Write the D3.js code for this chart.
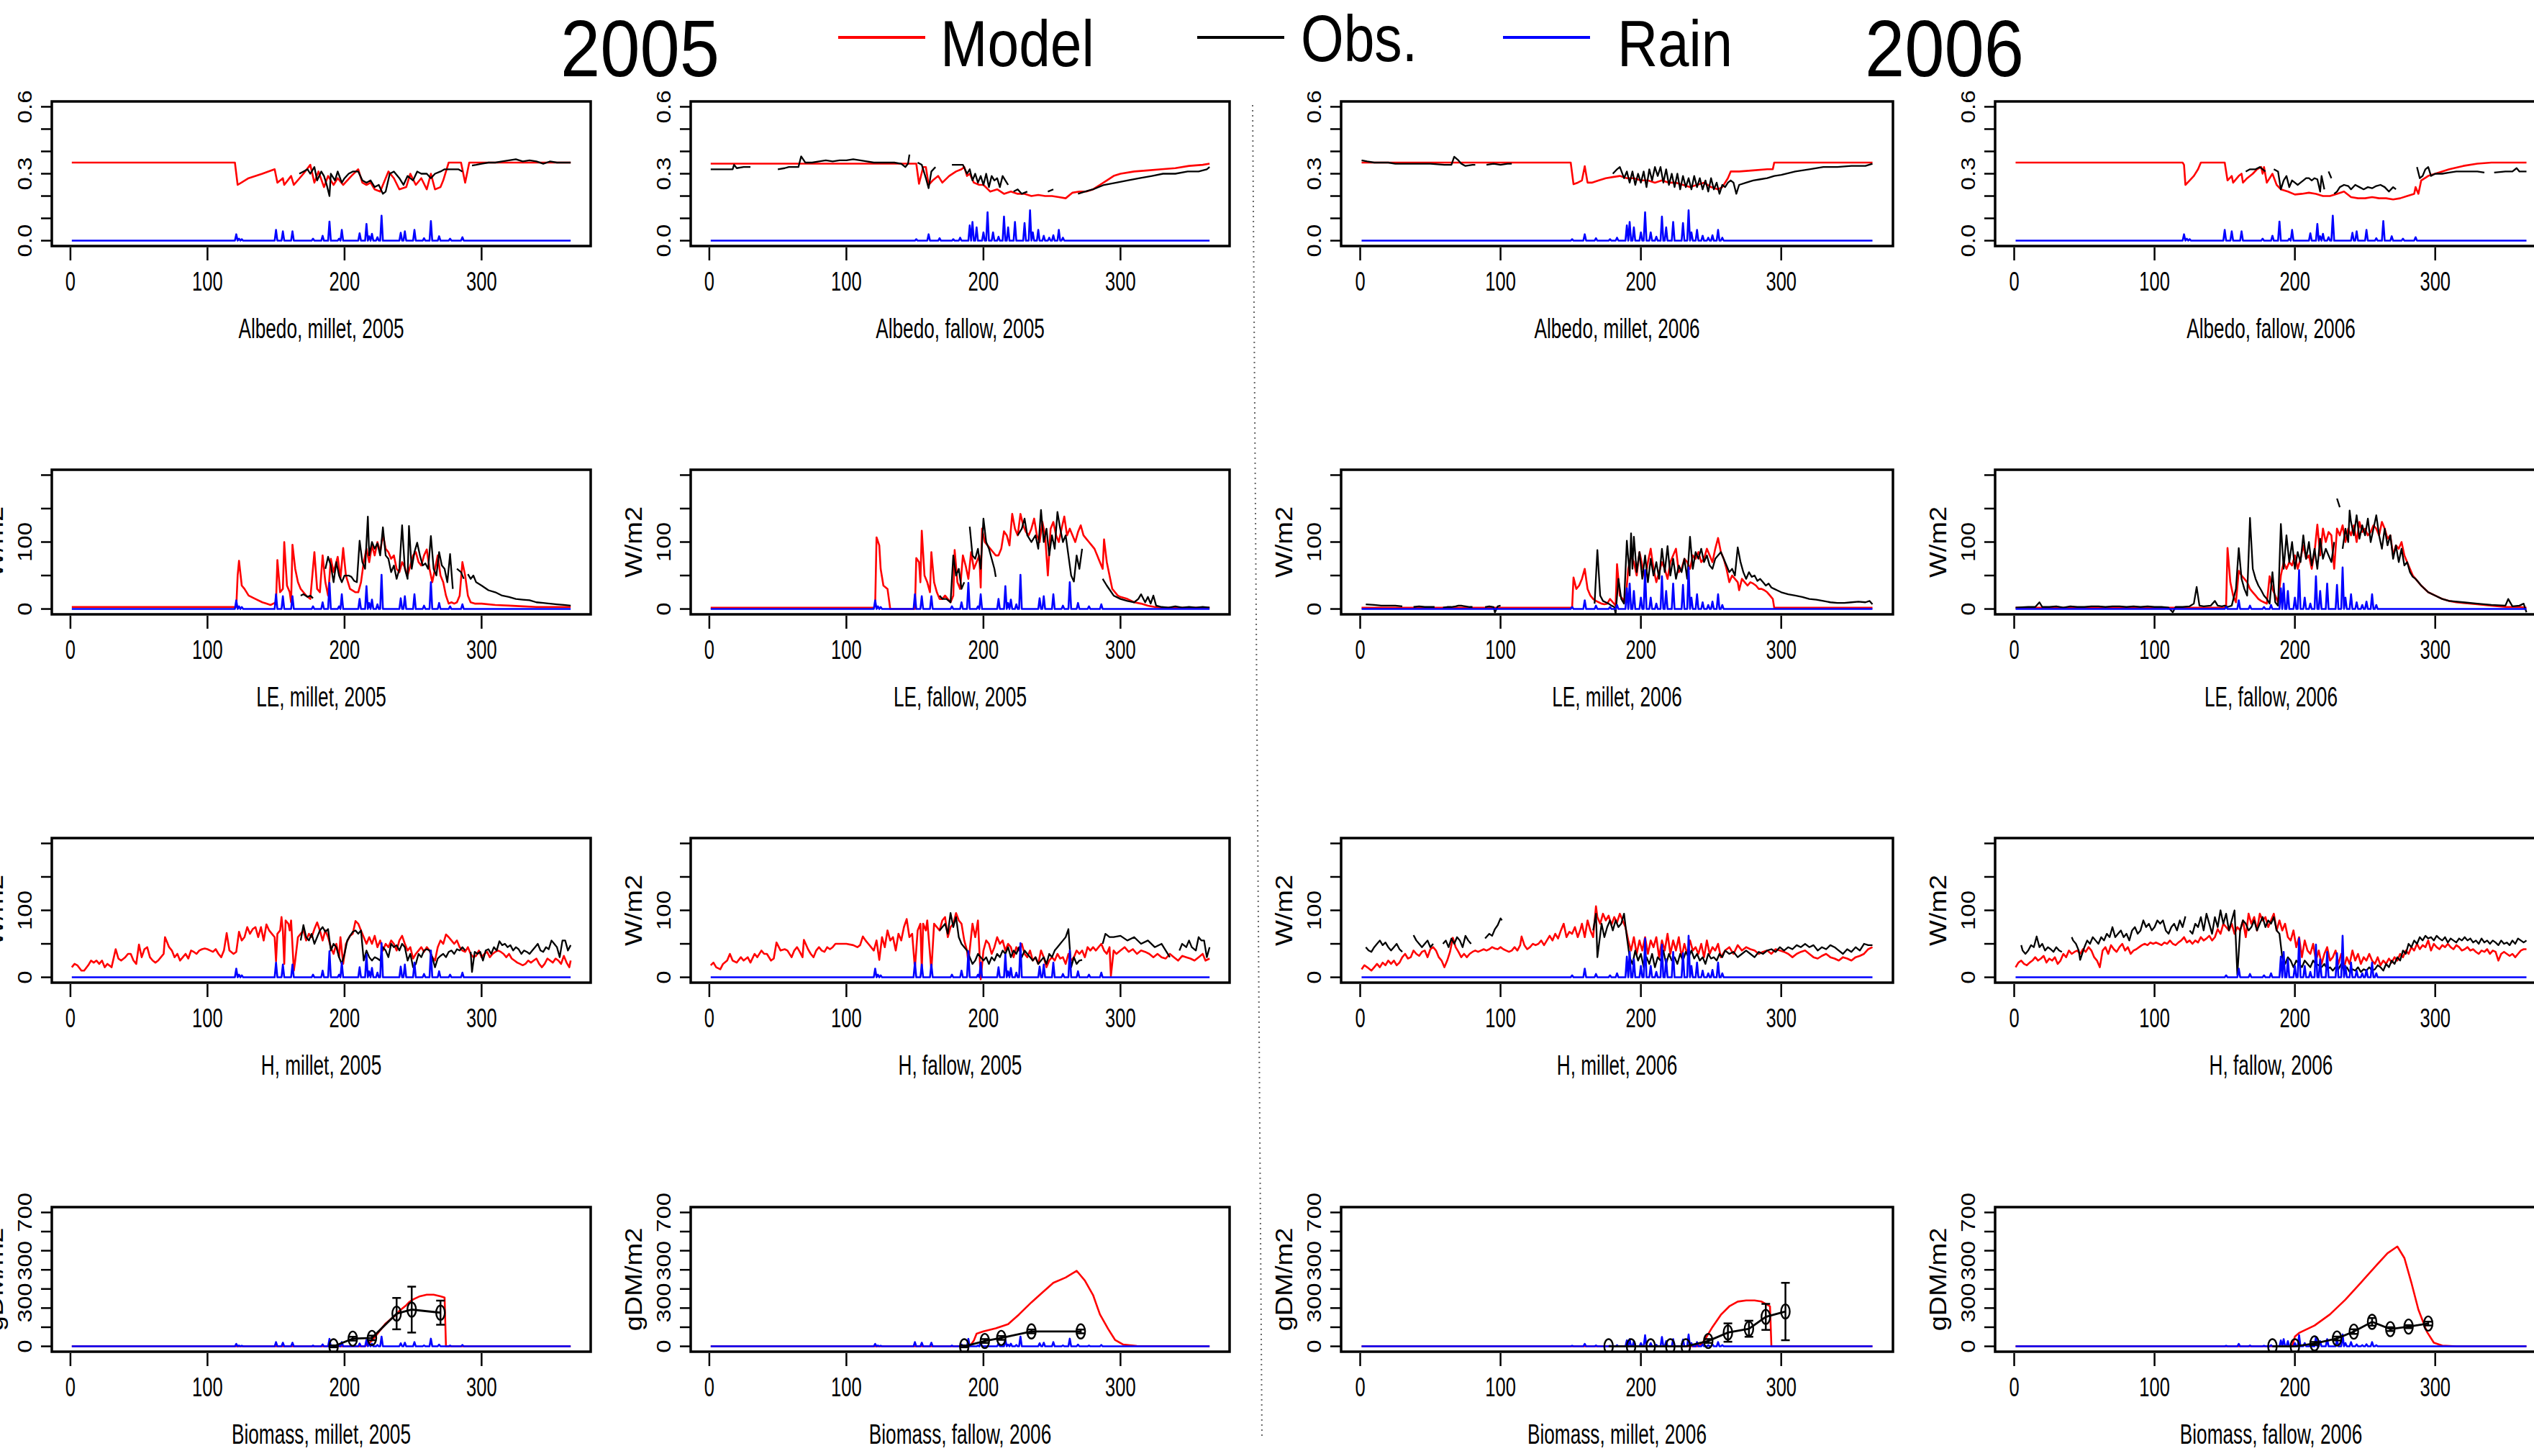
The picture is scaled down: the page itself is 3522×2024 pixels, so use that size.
<!DOCTYPE html>
<html>
<head>
<meta charset="utf-8">
<script src="https://cdn.jsdelivr.net/npm/d3@7"></script>
<style>
html, body { margin: 0; padding: 0; background: #fff; overflow: hidden; }
text { font-family: "Liberation Sans", Arial, Helvetica, sans-serif; fill: #000; }
</style>
</head>
<body>
<svg id="chart" width="3522" height="2024"></svg>
<script>
// ---------- data (day of year, value) ----------
const xTicks = [0, 100, 200, 300];

// rain spikes [day, mm]
const rain05 = [[121,13],[123,4],[125,3],[150,22],[155,19],[162,19],[177,4],[184,10],[189,39],[196,4],[198,22],[211,15],[216,34],[218,9],[220,14],[224,7],[227,51],[241,16],[244,19],[251,22],[258,5],[263,40],[269,9],[277,4],[286,7]];
const rain06 = [[151,3],[160,13],[168,5],[178,3],[183,6],[190,31],[192,38],[195,27],[200,17],[203,58],[207,17],[211,8],[215,49],[218,27],[223,38],[230,36],[234,62],[236,17],[240,22],[244,10],[248,6],[251,11],[255,22],[258,6]];

// Albedo
const albMil05Mod = [[1,.35],[120,.35],[122,.25],[130,.28],[140,.30],[149,.32],[151,.26],[155,.28],[156,.25],[161,.29],[163,.25],[170,.30],[175,.34],[178,.26],[181,.31],[185,.24],[188,.29],[192,.25],[195,.28],[199,.25],[205,.29],[210,.32],[213,.26],[216,.25],[219,.26],[222,.23],[226,.22],[232,.31],[236,.28],[240,.23],[245,.24],[248,.30],[252,.25],[256,.28],[260,.23],[263,.30],[266,.23],[270,.24],[272,.27],[276,.35],[285,.35],[288,.26],[291,.35],[365,.35]];
const albMil05Obs = [[167,.30],[170,.31],[173,.32],[175,.30],[178,.33],[180,.27],[183,.31],[185,.29],[187,.25],[189,.20],[190,.30],[193,.27],[195,.31],[198,.26],[200,.28],[203,.30],[206,.31],[210,.31],[213,.27],[216,.26],[219,.27],[222,.24],[225,.25],[228,.21],[230,.22],[233,.30],[236,.31],[240,.28],[243,.25],[246,.29],[250,.27],[253,.31],[256,.30],[260,.30],[263,.28],[266,.30],[270,.31],[273,.32],[276,.32],[280,.32],[283,.32],[286,.31],[288,null],[293,.337],[296,.34],[300,.345],[305,.35],[310,.35],[315,.355],[320,.36],[325,.365],[330,.355],[335,.36],[340,.355],[345,.345],[350,.355],[355,.35],[360,.35],[365,.35]];
const albFal05Mod = [[1,.345],[151,.345],[153,.255],[156,.33],[158,.33],[160,.25],[163,.27],[167,.29],[170,.26],[175,.29],[180,.31],[184,.32],[186,.33],[188,.29],[190,.30],[193,.26],[197,.25],[200,.25],[205,.22],[210,.23],[215,.21],[220,.22],[225,.21],[230,.21],[235,.20],[240,.205],[245,.20],[250,.20],[255,.195],[260,.19],[265,.215],[270,.22],[275,.22],[280,.23],[285,.25],[290,.27],[295,.29],[300,.30],[310,.31],[320,.315],[330,.32],[340,.325],[350,.335],[360,.34],[365,.345]];
const albFal05Obs = [[1,.32],[10,.32],[17,.32],[18,.34],[20,.325],[25,.33],[30,.33],[31,null],[50,.32],[55,.325],[58,.33],[62,.33],[65,.33],[67,.378],[70,.35],[75,.35],[80,.355],[85,.36],[90,.355],[95,.36],[100,.36],[105,.365],[110,.36],[115,.355],[120,.35],[125,.35],[130,.35],[135,.35],[140,.345],[143,.33],[145,.345],[146,.386],[147,null],[152,.35],[155,.34],[158,.28],[160,.235],[162,.31],[165,.33],[167,null],[177,.34],[180,.34],[185,.34],[188,.30],[190,.32],[192,.27],[194,.30],[196,.26],[198,.29],[200,.25],[202,.30],[204,.24],[206,.29],[208,.27],[210,.28],[212,.24],[214,.29],[216,.27],[218,.25],[219,null],[222,.22],[225,.23],[228,.21],[232,.22],[233,null],[247,.22],[251,.23],[252,null],[269,.21],[274,.22],[280,.23],[288,.25],[297,.26],[305,.27],[314,.28],[323,.29],[331,.30],[340,.30],[349,.31],[357,.31],[363,.32],[365,.33]];
const albMil06Mod = [[1,.35],[150,.35],[152,.253],[155,.26],[158,.27],[160,.334],[162,.26],[165,.26],[170,.27],[175,.28],[180,.285],[185,.29],[190,.28],[195,.28],[200,.27],[205,.27],[210,.26],[215,.27],[220,.26],[225,.26],[230,.25],[235,.24],[240,.25],[245,.26],[250,.24],[255,.23],[258,.24],[262,.28],[264,.31],[270,.31],[280,.315],[290,.32],[294,.32],[295,.35],[365,.35]];
const albMil06Obs = [[1,.36],[5,.355],[10,.35],[15,.35],[20,.35],[25,.345],[30,.345],[40,.345],[50,.345],[60,.34],[65,.34],[67,.376],[70,.36],[72,.345],[75,.335],[80,.34],[82,.34],[83,null],[90,.34],[95,.345],[100,.34],[105,.345],[108,.345],[109,null],[180,.30],[183,.32],[185,.33],[188,.28],[190,.31],[192,.26],[194,.31],[196,.25],[198,.30],[200,.26],[202,.31],[204,.24],[206,.32],[208,.27],[210,.33],[212,.29],[214,.33],[216,.26],[218,.32],[220,.25],[222,.30],[224,.24],[226,.30],[228,.23],[230,.29],[232,.24],[234,.28],[236,.23],[238,.29],[240,.24],[242,.28],[244,.23],[246,.27],[248,.22],[250,.28],[252,.23],[254,.26],[256,.21],[258,.25],[260,.24],[262,.26],[264,.27],[266,.26],[268,.21],[270,.25],[275,.26],[280,.27],[285,.275],[290,.28],[295,.29],[300,.295],[310,.31],[320,.32],[330,.33],[340,.33],[350,.335],[360,.335],[365,.345]];
const albFal06Mod = [[1,.35],[120,.35],[121,.34],[122,.25],[125,.27],[128,.29],[131,.32],[133,.35],[150,.35],[152,.27],[155,.29],[156,.26],[160,.29],[162,.30],[163,.26],[166,.28],[170,.30],[173,.32],[176,.33],[177,.30],[178,.33],[180,.26],[184,.30],[187,.25],[190,.23],[195,.22],[200,.207],[205,.21],[210,.215],[215,.21],[220,.20],[225,.20],[230,.21],[235,.22],[240,.195],[245,.19],[250,.19],[255,.195],[260,.19],[265,.19],[270,.185],[275,.19],[280,.20],[285,.21],[286,.24],[288,.21],[290,.27],[295,.29],[300,.30],[310,.32],[320,.335],[330,.345],[340,.35],[365,.35]];
const albFal06Obs = [[165,.31],[168,.32],[172,.32],[175,.33],[177,.32],[179,.31],[180,null],[185,.32],[188,.31],[190,.23],[192,.27],[194,.29],[196,.24],[198,.27],[200,.26],[202,.25],[204,.26],[206,.27],[208,.28],[210,.28],[212,.27],[214,.28],[216,.275],[218,.22],[219,.29],[221,.23],[222,null],[224,.31],[226,.28],[227,null],[228,.21],[230,.22],[232,.24],[235,.25],[238,.245],[240,.23],[243,.25],[246,.24],[249,.23],[252,.24],[255,.235],[258,.245],[261,.25],[264,.24],[267,.22],[270,.24],[272,.23],[273,null],[287,.33],[289,.28],[291,.29],[293,.32],[295,.33],[297,.29],[300,.30],[305,.30],[310,.305],[315,.31],[320,.31],[325,.31],[330,.31],[335,.305],[336,null],[342,.305],[350,.31],[355,.31],[358,.325],[360,.31],[365,.31]];

// LE (W/m2)
const leMil05Mod = [[1,3],[120,3],[121,3],[122,50],[123,72],[125,35],[127,30],[130,20],[135,15],[140,10],[143,8],[146,6],[148,8],[150,10],[151,73],[153,25],[155,30],[156,100],[158,35],[160,25],[161,10],[162,96],[164,60],[166,40],[168,30],[170,25],[172,20],[175,15],[178,85],[180,30],[182,25],[184,80],[186,40],[188,20],[190,75],[192,55],[195,78],[197,45],[199,91],[201,50],[204,30],[208,25],[210,25],[212,40],[214,70],[216,90],[218,70],[220,95],[222,80],[224,100],[226,85],[228,111],[230,90],[232,85],[234,75],[236,80],[238,60],[240,55],[242,70],[244,62],[246,50],[248,65],[250,80],[252,85],[254,70],[256,65],[258,80],[260,89],[262,60],[264,40],[266,60],[268,80],[270,50],[272,40],[274,20],[276,8],[278,10],[280,8],[282,10],[284,20],[286,70],[288,50],[290,20],[292,10],[295,8],[300,8],[310,6],[320,5],[330,4],[340,3],[365,3]];
const leMil05Obs = [[168,20],[170,22],[173,18],[175,20],[177,16],[179,null],[186,60],[188,78],[190,65],[192,40],[194,70],[196,50],[198,40],[200,50],[203,50],[205,48],[207,42],[209,40],[211,102],[213,70],[215,60],[217,138],[218,80],[220,100],[222,90],[224,98],[226,80],[228,122],[230,80],[232,75],[234,55],[236,65],[238,45],[240,60],[242,125],[244,60],[246,45],[247,124],[249,60],[251,85],[253,99],[255,80],[257,65],[259,68],[261,60],[263,109],[265,60],[267,50],[269,85],[271,65],[273,60],[275,40],[277,82],[279,30],[280,null],[282,60],[285,55],[287,45],[288,null],[290,52],[292,45],[294,50],[296,40],[300,35],[305,28],[310,25],[315,20],[320,18],[325,15],[330,14],[335,13],[340,10],[345,9],[350,8],[355,7],[360,6],[365,5]];
const leFal05Mod = [[1,2],[120,2],[121,5],[122,107],[124,95],[125,60],[127,35],[130,30],[131,15],[132,0],[150,0],[151,76],[153,70],[154,40],[155,117],[157,50],[159,40],[161,25],[162,85],[164,40],[166,25],[168,15],[170,15],[172,20],[174,15],[176,10],[178,20],[179,88],[181,40],[183,30],[185,80],[187,65],[189,45],[191,85],[193,60],[195,70],[197,80],[198,32],[199,120],[201,100],[203,95],[205,90],[207,85],[209,80],[211,80],[213,90],[215,116],[217,110],[219,95],[221,142],[223,120],[225,110],[227,142],[229,125],[231,115],[233,110],[235,120],[237,135],[239,110],[241,100],[243,130],[245,110],[247,50],[249,120],[251,130],[253,110],[255,100],[257,120],[259,138],[261,110],[263,120],[265,110],[267,100],[269,115],[271,125],[273,110],[275,105],[277,100],[279,95],[281,90],[283,80],[285,70],[287,60],[288,104],[290,70],[292,50],[294,30],[296,25],[298,20],[300,18],[305,15],[310,10],[315,8],[320,5],[325,3],[330,2],[365,2]];
const leFal05Obs = [[168,20],[170,15],[173,15],[176,10],[178,80],[180,50],[182,60],[184,30],[186,40],[187,null],[190,123],[192,80],[194,75],[196,90],[198,60],[200,135],[202,100],[204,90],[206,75],[208,60],[209,48],[210,null],[225,110],[228,120],[230,135],[232,110],[235,100],[238,110],[240,90],[242,148],[244,100],[246,120],[248,80],[250,110],[252,90],[254,145],[256,120],[258,100],[260,110],[262,80],[264,50],[266,41],[268,80],[270,60],[272,90],[273,null],[287,45],[290,35],[295,20],[300,15],[305,12],[310,10],[313,15],[315,22],[318,10],[320,18],[322,8],[324,20],[326,5],[330,3],[335,2],[340,4],[345,2],[350,3],[355,2],[360,3],[365,2]];
const leMil06Mod = [[1,2],[150,2],[151,2],[152,47],[154,30],[156,35],[158,45],[160,60],[162,30],[164,20],[166,15],[168,12],[170,10],[172,8],[174,7],[176,8],[178,15],[180,10],[182,5],[183,67],[185,20],[187,15],[189,10],[191,60],[193,80],[195,70],[197,50],[199,85],[201,65],[203,45],[205,70],[207,90],[209,60],[211,40],[213,55],[215,70],[217,60],[219,45],[221,70],[223,80],[225,90],[227,55],[229,60],[231,75],[233,70],[235,60],[237,80],[239,75],[241,85],[243,70],[245,75],[247,90],[249,80],[251,70],[253,90],[255,106],[257,85],[259,75],[261,60],[263,40],[265,50],[267,45],[269,40],[270,28],[272,45],[274,40],[276,35],[278,40],[280,38],[282,35],[284,30],[286,30],[288,28],[290,25],[292,20],[294,15],[295,2],[365,2]];
const leMil06Obs = [[4,7],[10,6],[15,5],[20,5],[25,5],[30,4],[31,null],[38,3],[42,4],[46,3],[50,3],[53,3],[54,null],[59,2],[62,3],[65,3],[68,4],[70,5],[72,5],[75,4],[78,3],[80,3],[81,null],[89,3],[92,4],[95,3],[96,-5],[98,4],[100,5],[101,null],[167,8],[169,88],[171,20],[173,12],[175,10],[177,8],[179,5],[181,3],[182,-7],[184,45],[186,15],[188,8],[190,102],[192,50],[193,113],[194,60],[195,108],[197,55],[199,85],[201,45],[203,80],[205,40],[207,75],[209,50],[211,70],[213,45],[215,90],[217,55],[219,94],[221,50],[223,75],[225,45],[227,65],[229,55],[231,75],[233,45],[235,108],[237,60],[239,85],[241,75],[243,90],[245,70],[247,80],[249,65],[251,60],[253,75],[255,80],[257,85],[259,75],[261,65],[263,55],[265,60],[267,50],[269,92],[271,70],[273,55],[275,45],[277,55],[279,48],[281,50],[283,42],[285,45],[287,40],[289,35],[291,38],[293,32],[295,30],[297,28],[300,25],[305,22],[310,20],[315,18],[320,15],[325,14],[330,12],[335,10],[340,9],[345,9],[350,10],[355,11],[360,10],[363,12],[365,7]];
const leFal06Mod = [[1,2],[150,2],[151,5],[152,91],[154,40],[156,20],[158,10],[160,57],[162,50],[164,45],[166,40],[168,30],[170,25],[172,20],[174,15],[176,12],[178,10],[180,8],[182,49],[184,30],[186,20],[188,10],[190,50],[192,70],[194,60],[196,70],[198,65],[200,80],[202,60],[204,75],[206,95],[208,75],[210,80],[212,60],[214,85],[216,126],[218,80],[220,120],[222,100],[224,115],[226,110],[228,60],[230,120],[232,110],[234,125],[236,100],[238,120],[240,110],[242,125],[244,100],[246,130],[248,115],[250,120],[252,110],[254,115],[256,125],[258,120],[260,110],[262,130],[264,120],[266,105],[268,110],[270,80],[272,95],[274,90],[276,100],[278,80],[280,70],[282,60],[284,50],[286,45],[288,40],[290,35],[295,25],[300,20],[305,15],[310,12],[315,10],[320,9],[330,7],[340,5],[350,3],[360,3],[365,2]];
const leFal06Obs = [[1,2],[10,3],[15,3],[18,10],[20,3],[25,3],[30,4],[35,2],[40,4],[45,3],[50,3],[55,4],[60,4],[65,3],[70,4],[75,4],[80,3],[85,4],[90,3],[95,4],[100,3],[105,3],[110,2],[113,-5],[115,3],[120,3],[125,4],[128,8],[130,33],[132,5],[135,4],[140,5],[143,12],[145,5],[148,4],[150,5],[152,3],[155,5],[158,30],[160,91],[162,45],[164,30],[166,20],[168,136],[170,60],[172,45],[174,35],[176,28],[178,20],[180,15],[182,8],[184,55],[186,10],[188,5],[190,127],[192,60],[194,110],[196,70],[198,100],[200,60],[202,85],[204,70],[206,110],[208,75],[210,100],[212,65],[214,90],[216,60],[218,105],[220,75],[222,90],[224,80],[226,70],[228,100],[229,null],[230,165],[232,152],[233,null],[234,90],[236,120],[238,100],[239,147],[240,130],[242,110],[244,140],[246,105],[248,125],[250,110],[252,135],[254,100],[256,120],[258,140],[260,110],[262,90],[264,120],[266,95],[268,110],[270,75],[272,95],[274,70],[276,90],[278,65],[280,70],[282,55],[284,48],[286,45],[288,40],[290,35],[295,25],[300,20],[305,15],[310,12],[320,10],[330,8],[340,6],[350,5],[352,15],[355,4],[360,5],[363,8],[365,-5]];

// H (W/m2)
const hMil05Mod = [[1,15],[3,20],[5,18],[8,10],[10,10],[13,18],[15,25],[17,22],[19,25],[21,20],[23,25],[25,15],[27,20],[30,15],[33,42],[35,28],[37,25],[40,30],[42,35],[44,35],[46,25],[48,20],[50,49],[52,30],[54,42],[56,45],[58,30],[60,25],[62,22],[64,25],[66,30],[68,35],[69,60],[72,45],[74,40],[76,30],[78,35],[80,25],[82,30],[84,35],[86,28],[88,40],[90,38],[92,35],[94,40],[96,42],[98,43],[100,42],[102,40],[104,38],[106,42],[108,35],[110,30],[112,40],[114,66],[116,40],[119,35],[121,38],[123,68],[125,55],[127,60],[129,75],[131,65],[133,72],[135,75],[137,60],[139,75],[141,55],[143,79],[145,70],[147,65],[149,60],[150,24],[151,65],[153,70],[154,90],[155,70],[156,20],[157,85],[159,80],[160,70],[161,85],[163,10],[164,25],[166,60],[168,65],[170,70],[172,55],[174,65],[176,60],[178,72],[180,82],[182,70],[184,55],[186,70],[188,60],[190,45],[192,35],[194,50],[196,30],[197,60],[199,20],[201,50],[204,62],[206,65],[208,84],[210,80],[212,70],[214,60],[216,50],[218,60],[220,50],[222,62],[224,45],[226,55],[228,40],[230,50],[232,45],[234,55],[236,50],[238,40],[240,55],[242,62],[244,50],[246,40],[248,45],[250,28],[252,35],[254,40],[256,45],[258,38],[260,45],[262,40],[264,30],[266,25],[268,45],[270,55],[272,50],[274,64],[276,60],[278,55],[280,50],[282,55],[284,45],[286,40],[288,38],[290,45],[292,35],[294,30],[296,32],[298,40],[300,30],[302,35],[304,38],[306,30],[308,35],[310,38],[312,40],[314,38],[316,35],[318,30],[320,35],[322,28],[324,25],[326,22],[328,20],[330,18],[332,20],[334,25],[336,22],[338,25],[340,28],[342,20],[344,15],[346,20],[348,28],[350,25],[352,22],[354,28],[356,25],[358,20],[360,32],[362,22],[364,15],[365,25]];
const hMil05Obs = [[168,55],[170,78],[172,60],[174,55],[176,65],[178,50],[180,60],[182,70],[184,75],[186,68],[188,72],[190,40],[192,50],[194,45],[196,30],[198,20],[200,35],[202,55],[204,62],[206,68],[208,70],[210,65],[212,70],[214,25],[216,40],[218,30],[220,25],[222,30],[224,28],[226,25],[228,45],[230,40],[232,30],[234,50],[236,45],[238,48],[240,40],[242,50],[244,45],[246,25],[248,35],[250,15],[252,20],[254,35],[256,30],[258,40],[260,42],[262,40],[264,30],[266,15],[268,28],[270,32],[272,35],[274,30],[276,38],[278,40],[280,35],[282,42],[284,40],[286,45],[288,40],[289,null],[292,38],[293,8],[295,38],[297,35],[299,38],[301,25],[303,40],[305,42],[307,35],[309,45],[311,40],[313,54],[315,48],[317,50],[319,45],[321,48],[323,40],[325,45],[327,42],[329,35],[331,40],[333,38],[335,35],[337,40],[339,45],[341,50],[343,40],[345,38],[347,45],[349,42],[351,55],[353,50],[355,45],[357,30],[359,55],[361,55],[363,40],[365,48]];
const hFal05Mod = [[1,18],[3,22],[5,15],[8,12],[10,20],[13,25],[15,35],[17,25],[20,22],[23,30],[25,25],[28,30],[30,22],[33,35],[35,30],[38,40],[40,35],[42,35],[45,25],[47,28],[49,52],[52,40],[55,42],[57,40],[60,30],[62,40],[64,45],[66,38],[68,30],[69,56],[72,42],[74,35],[76,30],[78,40],[80,45],[82,40],[84,38],[86,45],[88,42],[90,45],[92,50],[95,50],[100,50],[105,48],[108,45],[110,48],[112,61],[114,55],[116,50],[118,45],[120,40],[122,55],[124,26],[126,60],[128,45],[130,70],[132,55],[134,60],[136,40],[138,65],[140,55],[142,75],[144,87],[146,60],[148,65],[150,13],[152,70],[154,80],[155,10],[156,80],[158,70],[159,85],[162,10],[164,80],[166,75],[168,70],[170,85],[172,90],[174,60],[176,75],[178,80],[180,96],[182,85],[184,80],[186,55],[188,40],[189,22],[192,80],[194,60],[196,85],[198,-3],[200,40],[202,55],[204,50],[206,35],[208,45],[210,60],[212,50],[214,55],[216,40],[218,50],[220,45],[222,30],[224,45],[226,40],[228,50],[230,35],[232,30],[234,40],[236,25],[238,30],[240,20],[242,40],[244,30],[246,15],[248,25],[250,30],[252,25],[254,35],[256,28],[258,30],[260,20],[262,35],[264,25],[266,30],[268,40],[270,35],[272,40],[274,30],[276,45],[278,40],[280,45],[282,40],[284,45],[286,50],[288,40],[290,35],[292,45],[293,2],[295,40],[297,35],[300,40],[303,45],[306,38],[309,42],[312,35],[315,40],[318,38],[321,35],[324,30],[327,35],[330,30],[333,28],[336,35],[339,30],[342,25],[345,32],[348,30],[351,28],[354,25],[357,30],[360,35],[362,25],[365,28]];
const hFal05Obs = [[168,70],[170,75],[172,80],[174,65],[176,96],[178,75],[180,90],[182,60],[184,50],[186,45],[188,40],[190,30],[192,20],[194,25],[196,35],[198,30],[200,25],[202,30],[204,20],[206,30],[208,25],[210,35],[212,30],[214,40],[216,35],[218,45],[220,30],[222,40],[224,35],[226,45],[228,30],[230,40],[232,35],[234,30],[236,25],[238,30],[240,20],[242,25],[244,30],[246,20],[248,35],[250,30],[252,40],[254,45],[256,50],[258,55],[260,60],[262,72],[264,15],[266,30],[268,20],[270,25],[272,26],[273,null],[287,50],[289,65],[292,60],[295,60],[300,62],[305,55],[310,60],[315,50],[320,55],[325,45],[330,50],[333,40],[336,30],[337,null],[343,40],[345,50],[348,45],[350,55],[352,45],[355,40],[357,60],[359,55],[361,55],[363,30],[365,45]];
const hMil06Mod = [[1,12],[3,18],[5,15],[8,10],[10,15],[12,20],[14,15],[16,22],[18,18],[20,25],[22,20],[24,25],[26,18],[28,22],[30,30],[32,35],[34,28],[36,30],[38,40],[40,35],[42,32],[44,38],[46,40],[48,30],[50,42],[52,45],[54,40],[56,30],[58,25],[60,15],[62,25],[64,38],[66,59],[68,45],[70,38],[72,30],[74,35],[76,30],[78,35],[80,38],[82,40],[84,38],[86,40],[88,42],[90,40],[92,42],[94,45],[96,43],[98,42],[100,45],[102,42],[104,40],[106,38],[108,40],[110,45],[112,40],[114,48],[115,61],[117,48],[119,42],[121,45],[123,50],[125,48],[127,50],[129,55],[131,48],[133,55],[135,62],[137,55],[139,65],[141,58],[143,70],[145,80],[147,60],[149,68],[151,65],[153,75],[155,60],[157,72],[158,80],[160,60],[162,85],[164,70],[166,60],[168,106],[169,90],[171,80],[173,95],[175,85],[177,92],[179,78],[181,90],[183,82],[185,95],[187,85],[189,75],[191,55],[193,40],[195,60],[197,35],[199,55],[201,40],[203,60],[205,35],[207,55],[209,45],[211,60],[213,30],[215,55],[217,40],[219,65],[221,35],[223,55],[225,40],[227,60],[229,30],[231,50],[233,35],[235,55],[237,40],[239,45],[241,35],[243,50],[245,30],[247,55],[249,35],[251,45],[253,40],[255,50],[257,30],[260,40],[263,45],[266,35],[269,48],[272,40],[275,45],[278,42],[281,40],[284,35],[287,38],[290,40],[293,35],[296,42],[299,40],[302,38],[305,35],[308,30],[311,35],[314,38],[317,40],[320,35],[323,30],[326,28],[329,32],[332,35],[335,30],[338,28],[341,25],[344,30],[347,28],[350,25],[353,30],[356,32],[359,35],[362,42],[365,45]];
const hMil06Obs = [[4,45],[6,40],[8,38],[10,45],[12,50],[14,55],[16,48],[18,52],[20,45],[22,40],[24,45],[26,50],[28,42],[30,38],[31,null],[38,63],[40,55],[42,50],[44,45],[46,50],[48,55],[50,45],[52,50],[53,null],[59,50],[61,55],[63,45],[65,58],[67,50],[69,60],[71,55],[73,45],[75,62],[77,55],[79,50],[80,null],[89,58],[92,65],[94,62],[96,72],[98,78],[100,88],[101,85],[102,null],[166,70],[168,95],[169,30],[172,80],[174,60],[176,75],[178,85],[180,70],[182,85],[184,75],[186,80],[188,95],[190,60],[192,30],[194,20],[196,40],[198,25],[200,35],[202,15],[204,30],[206,20],[208,35],[210,15],[212,30],[214,25],[216,40],[218,20],[220,35],[222,25],[224,30],[226,20],[228,35],[230,25],[232,38],[234,30],[236,40],[238,28],[240,35],[242,25],[244,30],[246,20],[248,35],[250,28],[252,30],[254,25],[256,35],[258,30],[260,40],[263,35],[266,38],[269,30],[272,35],[275,40],[278,35],[281,30],[284,38],[287,35],[290,40],[293,42],[296,38],[299,45],[302,40],[305,45],[308,42],[311,48],[314,45],[317,50],[320,45],[323,48],[326,40],[329,45],[332,42],[335,48],[338,45],[341,40],[344,35],[347,42],[350,38],[353,45],[356,40],[359,50],[362,48],[365,48]];
const hFal06Mod = [[1,15],[3,22],[5,25],[7,20],[9,18],[11,22],[13,25],[15,30],[17,25],[19,28],[21,32],[23,22],[25,28],[27,25],[29,30],[31,20],[33,25],[35,35],[37,30],[39,40],[41,35],[43,38],[45,40],[47,35],[49,42],[51,38],[53,45],[55,40],[57,30],[59,25],[61,15],[63,40],[65,45],[67,35],[69,48],[71,42],[73,38],[75,45],[77,50],[79,40],[81,45],[83,35],[85,40],[87,42],[89,45],[91,48],[93,50],[95,48],[97,52],[99,50],[101,52],[103,50],[105,48],[107,52],[109,50],[111,55],[113,50],[115,48],[117,52],[119,55],[121,60],[123,52],[125,55],[127,50],[129,55],[131,52],[133,60],[135,55],[137,58],[139,62],[141,55],[143,60],[145,72],[147,65],[149,80],[151,75],[153,70],[155,80],[157,65],[159,75],[161,70],[163,85],[165,60],[167,95],[169,80],[171,90],[173,70],[175,95],[177,85],[179,90],[181,75],[183,85],[185,95],[187,70],[189,85],[191,70],[193,80],[195,60],[197,55],[199,70],[201,45],[203,60],[205,30],[207,55],[209,40],[211,35],[213,50],[215,25],[217,40],[219,20],[221,35],[223,45],[225,25],[227,30],[229,40],[231,20],[233,35],[235,15],[237,30],[239,20],[241,40],[243,25],[245,35],[247,20],[249,30],[251,25],[253,35],[255,25],[257,20],[259,30],[261,18],[263,25],[265,20],[267,28],[269,22],[271,30],[273,25],[275,35],[277,30],[279,40],[281,35],[283,45],[285,40],[287,50],[289,42],[291,48],[293,45],[295,55],[297,40],[299,50],[301,45],[303,42],[305,48],[307,45],[309,50],[311,45],[313,42],[315,48],[317,45],[319,40],[321,42],[323,45],[325,40],[327,42],[329,38],[331,35],[333,40],[335,38],[337,42],[339,35],[341,40],[343,38],[345,25],[347,35],[349,38],[351,35],[353,32],[355,35],[357,30],[359,35],[361,40],[363,42],[365,42]];
const hFal06Obs = [[5,48],[6,40],[8,35],[10,40],[12,48],[14,45],[16,61],[18,45],[20,50],[22,40],[24,45],[26,42],[28,38],[30,45],[32,40],[34,38],[35,null],[41,60],[42,55],[44,50],[46,40],[47,26],[50,45],[52,55],[54,50],[56,60],[58,55],[60,50],[62,60],[64,55],[66,65],[68,60],[70,75],[72,60],[74,65],[76,70],[78,60],[80,65],[82,55],[84,70],[86,75],[88,65],[90,70],[92,85],[94,75],[96,80],[98,70],[100,75],[102,85],[104,80],[106,85],[108,70],[110,65],[112,75],[114,80],[116,70],[118,85],[120,75],[122,91],[123,null],[125,70],[127,65],[129,80],[131,75],[133,90],[135,70],[137,95],[139,80],[141,65],[143,90],[145,75],[147,100],[149,80],[151,95],[153,70],[155,85],[157,100],[159,4],[161,70],[163,85],[165,80],[167,70],[169,75],[171,85],[173,70],[175,80],[177,90],[179,75],[181,85],[183,80],[185,90],[187,70],[189,65],[191,30],[193,20],[195,30],[197,25],[199,15],[201,25],[203,20],[205,15],[207,25],[209,20],[211,15],[213,25],[215,20],[217,18],[219,15],[221,20],[223,12],[225,15],[227,10],[229,15],[231,12],[233,20],[235,10],[237,15],[239,8],[241,12],[243,10],[245,15],[247,8],[249,12],[251,10],[253,15],[255,10],[257,12],[259,18],[261,15],[263,10],[265,20],[267,15],[269,25],[271,20],[273,30],[275,25],[277,40],[279,35],[281,50],[283,45],[285,55],[287,50],[289,60],[291,55],[293,62],[295,58],[297,60],[299,55],[301,62],[303,58],[305,55],[307,60],[309,52],[311,58],[313,55],[315,52],[317,58],[319,55],[321,60],[323,55],[325,58],[327,52],[329,55],[331,50],[333,58],[335,52],[337,55],[339,50],[341,55],[343,52],[345,48],[347,55],[349,50],[351,52],[353,48],[355,55],[357,50],[359,58],[361,55],[363,52],[365,55]];

// Biomass (gDM/m2): model curves and sampled observations
const bioMil05Mod = [[1,0],[215,0],[220,30],[225,75],[230,120],[235,150],[238,167],[240,185],[245,215],[247,230],[250,245],[255,262],[260,270],[265,270],[270,262],[273,255],[274,0],[365,0]];
const bioMil05ObsDay = [192, 206, 220, 238, 249, 270];
const bioMil05ObsVal = [0, 40, 44, 171, 192, 176];
const bioMil05ObsErr = [5, 10, 12, 82, 120, 63];
const bioFal06aMod = [[1,0],[190,0],[193,30],[195,66],[200,78],[209,94],[218,116],[226,167],[235,230],[243,281],[251,332],[260,360],[268,395],[274,344],[280,268],[285,167],[291,91],[296,34],[302,9],[312,2],[365,0]];
const bioFal06aObsDay = [186, 201, 213, 235, 271];
const bioFal06aObsVal = [0, 28, 44, 78, 78];
const bioFal06aObsErr = [5, 10, 10, 10, 10];
const bioMil06Mod = [[1,0],[240,0],[243,10],[246,40],[251,101],[257,165],[263,209],[269,234],[275,240],[281,240],[286,234],[292,209],[293,0],[365,0]];
const bioMil06ObsDay = [177, 193, 207, 221, 232, 248, 262, 277, 289, 303];
const bioMil06ObsVal = [0, 0, 0, 0, 0, 28, 72, 92, 154, 182];
const bioMil06ObsErr = [0, 0, 0, 0, 0, 10, 48, 42, 68, 150];
const bioFal06Mod = [[1,0],[198,0],[200,51],[203,70],[214,109],[225,167],[236,244],[247,333],[258,423],[266,487],[273,522],[278,462],[283,333],[288,192],[294,77],[299,19],[305,4],[315,0],[365,0]];
const bioFal06ObsDay = [184, 200, 214, 230, 242, 255, 268, 281, 295];
const bioFal06ObsVal = [0, 0, 15, 41, 77, 128, 90, 103, 119];
const bioFal06ObsErr = [0, 0, 8, 10, 12, 20, 10, 8, 10];

// ---------- layout ----------
const SX = 0.69;                       // horizontal text is condensed in the source figure
const SXR = 0.85;                      // rotated axis text is less condensed
const colLeft = [72, 960, 1864, 2773];
const colWidth = [749, 749, 767, 767];
const rowTop = [141, 653, 1165, 1678];
const boxH = 201;

const kinds = {
    alb: { domain: [-0.024, 0.624], ticks: d3.range(0, 0.61, 0.1),
           labels: [[0, '0.0'], [0.3, '0.3'], [0.6, '0.6']], rainK: 0.0022, title: null },
    flux: { domain: [-8, 208], ticks: [0, 50, 100, 150, 200],
            labels: [[0, '0'], [100, '100']], rainK: 1, title: 'W/m2' },
    bio: { domain: [-28, 728], ticks: d3.range(0, 701, 100),
           labels: [[0, '0'], [228, '300'], [448, '300'], [700, '700']], rainK: 1, title: 'gDM/m2' }
};

const bioObs = (day, val, err) => day.map((d, i) => ({ day: d, val: val[i], err: err[i] }));

const panels = [
    { r: 0, c: 0, kind: 'alb', mod: albMil05Mod, obs: albMil05Obs, rain: rain05, label: 'Albedo, millet, 2005' },
    { r: 0, c: 1, kind: 'alb', mod: albFal05Mod, obs: albFal05Obs, rain: rain06, label: 'Albedo, fallow, 2005' },
    { r: 0, c: 2, kind: 'alb', mod: albMil06Mod, obs: albMil06Obs, rain: rain06, label: 'Albedo, millet, 2006' },
    { r: 0, c: 3, kind: 'alb', mod: albFal06Mod, obs: albFal06Obs, rain: rain05, label: 'Albedo, fallow, 2006' },
    { r: 1, c: 0, kind: 'flux', mod: leMil05Mod, obs: leMil05Obs, rain: rain05, label: 'LE, millet, 2005' },
    { r: 1, c: 1, kind: 'flux', mod: leFal05Mod, obs: leFal05Obs, rain: rain05, label: 'LE, fallow, 2005' },
    { r: 1, c: 2, kind: 'flux', mod: leMil06Mod, obs: leMil06Obs, rain: rain06, label: 'LE, millet, 2006' },
    { r: 1, c: 3, kind: 'flux', mod: leFal06Mod, obs: leFal06Obs, rain: rain06, label: 'LE, fallow, 2006' },
    { r: 2, c: 0, kind: 'flux', mod: hMil05Mod, obs: hMil05Obs, rain: rain05, label: 'H, millet, 2005' },
    { r: 2, c: 1, kind: 'flux', mod: hFal05Mod, obs: hFal05Obs, rain: rain05, label: 'H, fallow, 2005' },
    { r: 2, c: 2, kind: 'flux', mod: hMil06Mod, obs: hMil06Obs, rain: rain06, label: 'H, millet, 2006' },
    { r: 2, c: 3, kind: 'flux', mod: hFal06Mod, obs: hFal06Obs, rain: rain06, label: 'H, fallow, 2006' },
    { r: 3, c: 0, kind: 'bio', mod: bioMil05Mod, pts: bioObs(bioMil05ObsDay, bioMil05ObsVal, bioMil05ObsErr), rain: rain05, label: 'Biomass, millet, 2005' },
    { r: 3, c: 1, kind: 'bio', mod: bioFal06aMod, pts: bioObs(bioFal06aObsDay, bioFal06aObsVal, bioFal06aObsErr), rain: rain05, label: 'Biomass, fallow, 2006' },
    { r: 3, c: 2, kind: 'bio', mod: bioMil06Mod, pts: bioObs(bioMil06ObsDay, bioMil06ObsVal, bioMil06ObsErr), rain: rain06, label: 'Biomass, millet, 2006' },
    { r: 3, c: 3, kind: 'bio', mod: bioFal06Mod, pts: bioObs(bioFal06ObsDay, bioFal06ObsVal, bioFal06ObsErr), rain: rain06, label: 'Biomass, fallow, 2006' }
];

// rain drawn as a spike line over a zero baseline
function rainPoints(spikes, k) {
    const pts = [[1, 0]];
    spikes.forEach(([d, v]) => { pts.push([d - 1, 0], [d, v * k], [d + 1, 0]); });
    pts.push([365, 0]);
    return pts;
}

const svg = d3.select('#chart');
const defs = svg.append('defs');

// condensed text helper
function sqText(g, x, y, str, size, rot) {
    const sx = rot ? SXR : SX;
    return g.append('text')
        .attr('transform', `translate(${x},${y}) scale(${sx},1)` + (rot ? ` rotate(${rot})` : ''))
        .attr('text-anchor', 'middle')
        .attr('font-size', size)
        .text(str);
}

panels.forEach((p, i) => {
    const k = kinds[p.kind];
    const left = colLeft[p.c], top = rowTop[p.r], w = colWidth[p.c];
    const bottom = top + boxH;

    const x = d3.scaleLinear().domain([-13.6, 379.6]).range([left, left + w]);
    const y = d3.scaleLinear().domain(k.domain).range([bottom, top]);

    const g = svg.append('g');

    defs.append('clipPath').attr('id', 'clip' + i)
        .append('rect').attr('x', left).attr('y', top).attr('width', w).attr('height', boxH);

    const plot = g.append('g').attr('clip-path', `url(#clip${i})`);
    const line = d3.line()
        .defined(d => d[1] !== null)
        .x(d => x(d[0]))
        .y(d => y(d[1]));

    plot.append('path').datum(p.mod)
        .attr('fill', 'none').attr('stroke', '#ff0000').attr('stroke-width', 2.6)
        .attr('stroke-linejoin', 'round').attr('d', line);

    if (p.obs) {
        plot.append('path').datum(p.obs)
            .attr('fill', 'none').attr('stroke', '#000').attr('stroke-width', 2.3)
            .attr('stroke-linejoin', 'round').attr('d', line);
    }

    plot.append('path').datum(rainPoints(p.rain, k.rainK))
        .attr('fill', 'none').attr('stroke', '#0000ff').attr('stroke-width', 2.6)
        .attr('stroke-linejoin', 'round').attr('d', line);

    if (p.pts) {
        plot.append('path').datum(p.pts.map(d => [d.day, d.val]))
            .attr('fill', 'none').attr('stroke', '#000').attr('stroke-width', 2.8)
            .attr('d', line);
        const bars = plot.selectAll('.err').data(p.pts.filter(d => d.err > 0)).enter().append('g');
        bars.append('line')
            .attr('x1', d => x(d.day)).attr('x2', d => x(d.day))
            .attr('y1', d => y(d.val - d.err)).attr('y2', d => y(d.val + d.err))
            .attr('stroke', '#000').attr('stroke-width', 2.5);
        [-1, 1].forEach(s => {
            bars.append('line')
                .attr('x1', d => x(d.day) - 6).attr('x2', d => x(d.day) + 6)
                .attr('y1', d => y(d.val + s * d.err)).attr('y2', d => y(d.val + s * d.err))
                .attr('stroke', '#000').attr('stroke-width', 2.5);
        });
        plot.selectAll('.pt').data(p.pts).enter().append('ellipse')
            .attr('cx', d => x(d.day)).attr('cy', d => y(d.val))
            .attr('rx', 6).attr('ry', 10)
            .attr('fill', 'none').attr('stroke', '#000').attr('stroke-width', 2.4);
    }

    // box
    g.append('rect')
        .attr('x', left).attr('y', top).attr('width', w).attr('height', boxH)
        .attr('fill', 'none').attr('stroke', '#000').attr('stroke-width', 3.5);

    // x axis ticks + labels
    xTicks.forEach(t => {
        g.append('line')
            .attr('x1', x(t)).attr('x2', x(t))
            .attr('y1', bottom + 2).attr('y2', bottom + 20)
            .attr('stroke', '#000').attr('stroke-width', 2.5);
        sqText(g, x(t), bottom + 62, String(t), 37);
    });

    // y axis ticks + rotated labels
    k.ticks.forEach(t => {
        g.append('line')
            .attr('x1', left - 15).attr('x2', left)
            .attr('y1', y(t)).attr('y2', y(t))
            .attr('stroke', '#000').attr('stroke-width', 2.5);
    });
    k.labels.forEach(([v, s]) => sqText(g, left - 28, y(v), s, 33, -90));

    if (k.title) sqText(g, left - 68, (top + bottom) / 2, k.title, 38, -90);

    // panel caption
    sqText(g, left + w / 2, bottom + 128, p.label, 38);
});

// dotted separator between the two years
svg.append('line')
    .attr('x1', 1741).attr('y1', 146).attr('x2', 1754).attr('y2', 2000)
    .attr('stroke', '#666').attr('stroke-width', 2).attr('stroke-dasharray', '2,5');

// header: years and legend
const header = [
    { t: '2005', x: 779, y: 106, w: 221, fs: 112 },
    { t: 'Model', x: 1307, y: 92, w: 214, fs: 90 },
    { t: 'Obs.', x: 1808, y: 85, w: 162, fs: 90 },
    { t: 'Rain', x: 2248, y: 92, w: 160, fs: 90 },
    { t: '2006', x: 2592, y: 106, w: 221, fs: 112 }
];
header.forEach(h => {
    svg.append('text')
        .attr('x', h.x).attr('y', h.y)
        .attr('font-size', h.fs)
        .attr('textLength', h.w).attr('lengthAdjust', 'spacingAndGlyphs')
        .text(h.t);
});
const legendLines = [
    { x1: 1165, x2: 1286, color: '#ff0000' },
    { x1: 1664, x2: 1785, color: '#000000' },
    { x1: 2089, x2: 2210, color: '#0000ff' }
];
legendLines.forEach(l => {
    svg.append('line')
        .attr('x1', l.x1).attr('x2', l.x2).attr('y1', 52).attr('y2', 52)
        .attr('stroke', l.color).attr('stroke-width', 4);
});
</script>
</body>
</html>
